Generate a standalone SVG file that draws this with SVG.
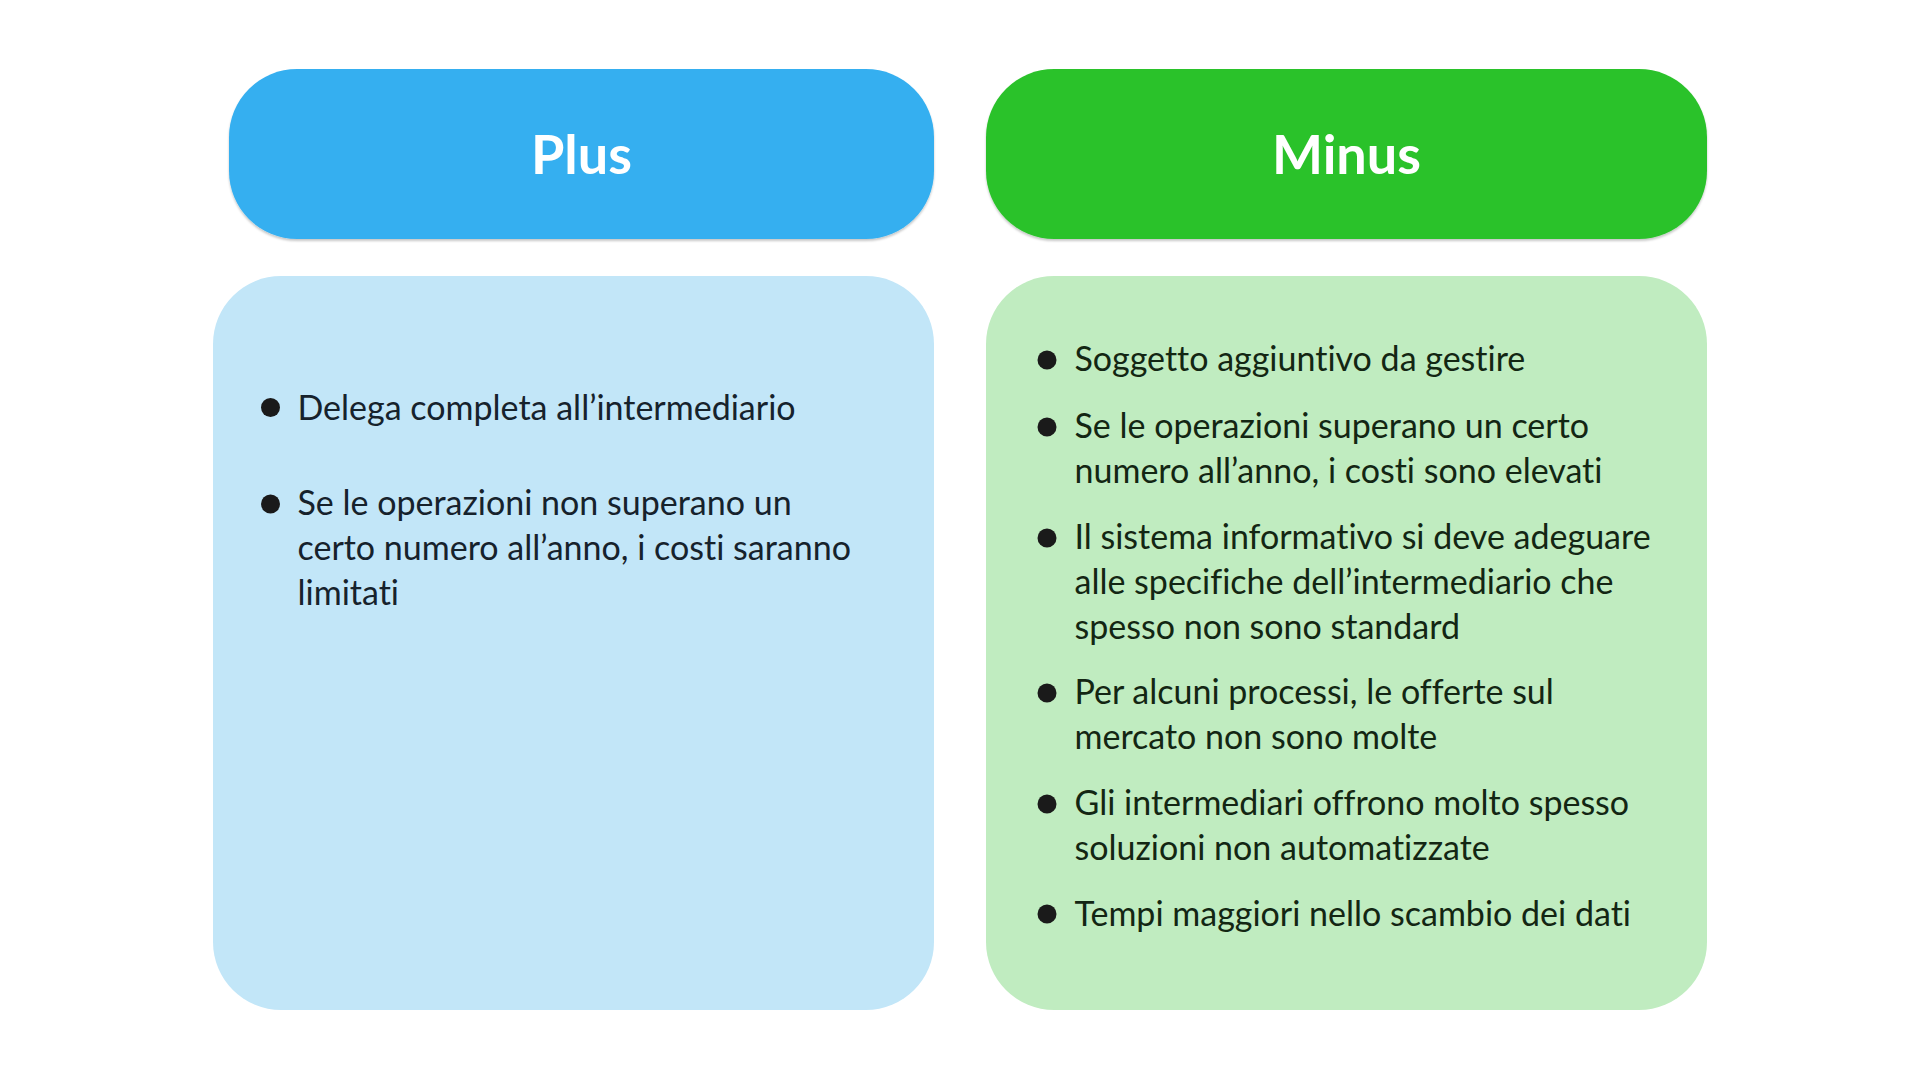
<svg xmlns="http://www.w3.org/2000/svg" width="1920" height="1080" viewBox="0 0 1920 1080">
  <defs>
    <filter id="sh" x="-5%" y="-5%" width="110%" height="115%">
      <feDropShadow dx="0" dy="2" stdDeviation="1" flood-color="#000" flood-opacity="0.22"/>
    </filter>
    <style>
      .hdr { font-family: Lato, "Liberation Sans", sans-serif; font-weight: 700; font-size: 54px; fill: #ffffff; text-anchor: middle; }
      .txt { font-family: Lato, "Liberation Sans", sans-serif; font-weight: 400; font-size: 34px; font-variant-ligatures: none; }
      .plus-t { fill: #16222c; }
      .minus-t { fill: #132613; }
      .dot { fill: #1a1a1a; }
    </style>
  </defs>
  <rect x="0" y="0" width="1920" height="1080" fill="#ffffff"/>

  <g id="plus-header">
    <rect x="229" y="69" width="705" height="170" rx="68" ry="68" fill="#35aff0" filter="url(#sh)"/>
    <text class="hdr" x="581.5" y="174">Plus</text>
  </g>

  <g id="minus-header">
    <rect x="986" y="69" width="721" height="170" rx="68" ry="68" fill="#2bc22b" filter="url(#sh)"/>
    <text class="hdr" x="1346.5" y="174">Minus</text>
  </g>

  <g id="plus-body">
    <rect x="213" y="276" width="721" height="734" rx="68" ry="68" fill="#c2e6f8"/>
    <circle class="dot" cx="270.5" cy="407.5" r="9.5"/>
    <text class="txt plus-t" x="297.5" y="419.5">Delega completa all’intermediario</text>
    <circle class="dot" cx="270.5" cy="504" r="9.5"/>
    <text class="txt plus-t" x="297.5" y="515">Se le operazioni non superano un</text>
    <text class="txt plus-t" x="297.5" y="560">certo numero all’anno, i costi saranno</text>
    <text class="txt plus-t" x="297.5" y="605">limitati</text>
  </g>

  <g id="minus-body">
    <rect x="986" y="276" width="721" height="734" rx="68" ry="68" fill="#c0ecc0"/>
    <circle class="dot" cx="1047" cy="360" r="9.5"/>
    <text class="txt minus-t" x="1074.5" y="371">Soggetto aggiuntivo da gestire</text>
    <circle class="dot" cx="1047" cy="427" r="9.5"/>
    <text class="txt minus-t" x="1074.5" y="438">Se le operazioni superano un certo</text>
    <text class="txt minus-t" x="1074.5" y="483">numero all’anno, i costi sono elevati</text>
    <circle class="dot" cx="1047" cy="538" r="9.5"/>
    <text class="txt minus-t" x="1074.5" y="549">Il sistema informativo si deve adeguare</text>
    <text class="txt minus-t" x="1074.5" y="594">alle specifiche dell’intermediario che</text>
    <text class="txt minus-t" x="1074.5" y="639">spesso non sono standard</text>
    <circle class="dot" cx="1047" cy="693" r="9.5"/>
    <text class="txt minus-t" x="1074.5" y="704">Per alcuni processi, le offerte sul</text>
    <text class="txt minus-t" x="1074.5" y="749">mercato non sono molte</text>
    <circle class="dot" cx="1047" cy="804" r="9.5"/>
    <text class="txt minus-t" x="1074.5" y="815">Gli intermediari offrono molto spesso</text>
    <text class="txt minus-t" x="1074.5" y="860">soluzioni non automatizzate</text>
    <circle class="dot" cx="1047" cy="914" r="9.5"/>
    <text class="txt minus-t" x="1074.5" y="926">Tempi maggiori nello scambio dei dati</text>
  </g>
</svg>
